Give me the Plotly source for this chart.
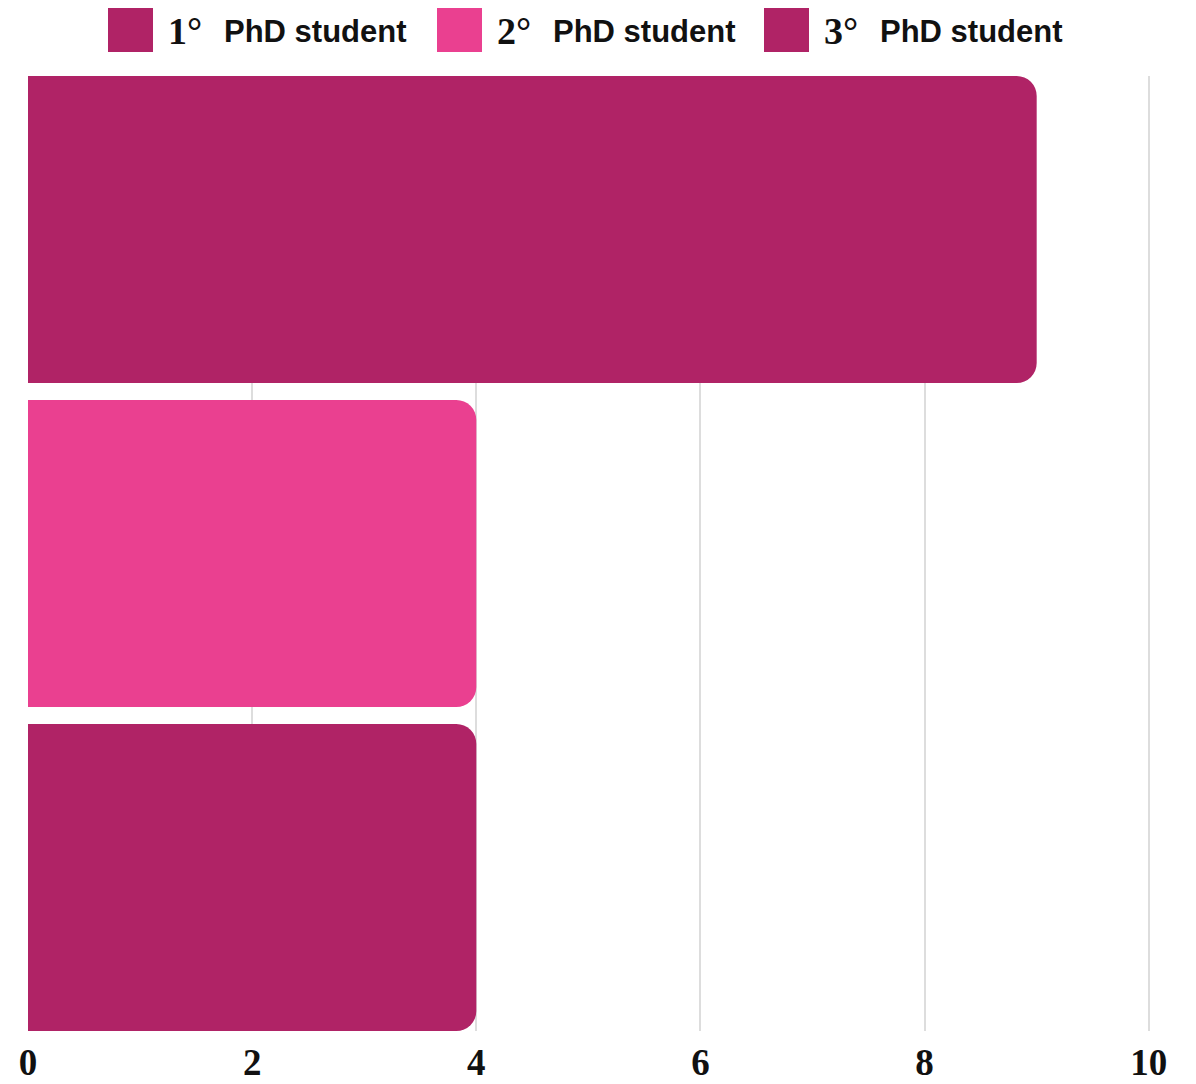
import plotly.graph_objects as go

# Series
categories = ["1° PhD student", "2° PhD student", "3° PhD student"]
ordinals = ["1°", "2°", "3°"]
label_text = "PhD student"
values = [9, 4, 4]
colors = ["#B02366", "#EA4090", "#B02366"]
tick_values = [0, 2, 4, 6, 8, 10]
tick_labels = ["0", "2", "4", "6", "8", "10"]

W, H = 1196, 1084
M = dict(l=28, r=45, t=76, b=53)
BARGAP = 0.0525


def px(x):
    return (x - M["l"]) / (W - M["l"] - M["r"])


def py(y):
    return (H - M["b"] - y) / (H - M["t"] - M["b"])


fig = go.Figure(
    go.Bar(
        x=values,
        y=categories,
        orientation="h",
        marker=dict(color=colors, line=dict(width=0)),
        showlegend=False,
        hoverinfo="x+y",
    )
)

# Custom legend row above the plot
legend_x = [108, 437, 764]
shapes = []
annotations = []
for i, (ordn, col) in enumerate(zip(ordinals, colors)):
    x0 = legend_x[i]
    shapes.append(dict(
        type="rect", xref="paper", yref="paper",
        x0=px(x0), x1=px(x0 + 45), y0=py(52), y1=py(8),
        fillcolor=col, line=dict(width=0), layer="above",
    ))
    annotations.append(dict(
        xref="paper", yref="paper", x=px(x0 + 58), y=py(31),
        xanchor="left", yanchor="middle", showarrow=False,
        text=ordn,
        font=dict(family="Liberation Serif", size=38, color="#111", weight="bold"),
    ))
    annotations.append(dict(
        xref="paper", yref="paper", x=px(x0 + 114), y=py(31),
        xanchor="left", yanchor="middle", showarrow=False,
        text=label_text,
        font=dict(family="Liberation Sans", size=31, color="#111", weight="bold"),
    ))

# Bars touch the top and bottom of the plot; only inner gaps between bars
half_gap = BARGAP / 2
n = len(categories)

fig.update_layout(
    width=W, height=H,
    margin=M,
    paper_bgcolor="white",
    plot_bgcolor="white",
    bargap=BARGAP,
    barcornerradius=20,
    shapes=shapes,
    annotations=annotations,
    xaxis=dict(
        range=[0, 10.02],
        tickvals=tick_values,
        ticktext=tick_labels,
        showgrid=True,
        gridcolor="#DDDDDD",
        gridwidth=1.5,
        zeroline=False,
        showline=False,
        ticks="",
        automargin=False,
        ticklabelstandoff=6,
        tickfont=dict(family="Liberation Serif", size=37, color="#111", weight="bold"),
        fixedrange=True,
    ),
    yaxis=dict(
        range=[n - 0.5 - half_gap, -0.5 + half_gap],
        showticklabels=False,
        showgrid=False,
        zeroline=False,
        showline=False,
        ticks="",
        automargin=False,
        fixedrange=True,
    ),
)

fig.write_html("out.html")
